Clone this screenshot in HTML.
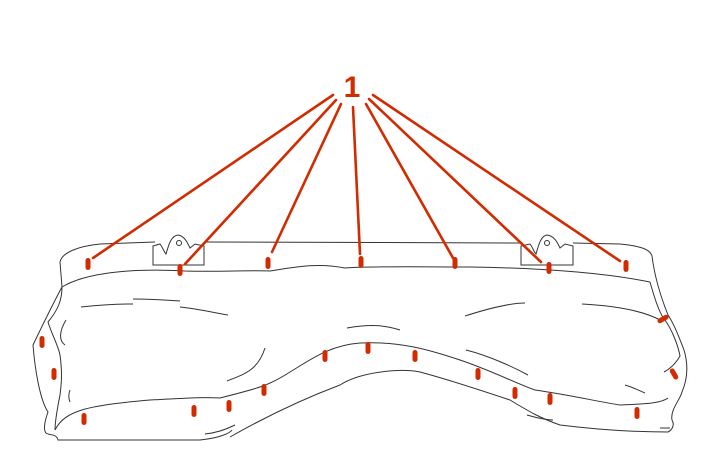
<!DOCTYPE html>
<html><head><meta charset="utf-8"><style>html,body{margin:0;padding:0;background:#fff}svg{display:block}</style></head>
<body>
<svg width="709" height="473" viewBox="0 0 709 473" xmlns="http://www.w3.org/2000/svg">
<g fill="none" stroke="#333" stroke-width="1">
<!-- top edge -->
<path d="M60,262 C62,252 80,246 100,244 L155,242 M205,242 L520,243 M573,243 L620,244 C640,246 650,249 652,256"/>
<!-- top rim lower -->
<path d="M62,287 C85,273 130,268 185,271 C220,272 250,270 270,271 C300,266 320,263 345,268 C370,266 420,267 470,267 C540,268 600,272 650,282"/>
<!-- left side -->
<path d="M60,262 L62,287 C55,300 45,320 33,345 C35,370 40,400 48,412 C45,420 43,430 46,433 C50,436 56,433 58,440 L200,440 C220,438 230,433 232,430"/>
<path d="M62,287 C62,300 58,310 48,322 C52,335 58,345 60,355 C62,370 62,380 60,395 C58,405 55,420 55,430"/>
<path d="M55,430 C65,410 90,405 150,400 C190,398 200,397 220,398 C260,388 270,385 290,372 C310,360 330,345 360,343 C400,341 430,350 460,360 C490,370 520,385 535,390 C570,395 600,402 620,405 C640,404 660,404 668,398"/>
<path d="M230,437 C260,420 300,400 340,385 C360,372 400,368 420,372 C450,380 480,390 510,400 C530,412 540,418 560,425 C600,430 640,432 668,432 C672,430 675,425 672,420 C670,410 680,400 682,392"/>
<path d="M652,256 C655,280 662,300 668,315 C675,325 680,340 684,350 C690,370 685,385 682,392"/>
<path d="M650,282 C655,300 660,315 665,320 C672,330 678,345 680,356 C675,365 668,370 664,372"/>
<!-- inner strokes -->
<path d="M81,307 C100,305 120,304 133,304 M133,299 C150,299 165,300 180,301 M180,307 C200,309 215,313 228,315"/>
<path d="M66,320 C60,330 58,340 65,345 M70,390 C68,395 69,400 70,402"/>
<path d="M227,381 C245,374 258,370 265,348 M205,434 C215,433 225,430 235,425"/>
<path d="M465,316 C490,308 510,303 525,303 M582,304 C620,306 645,312 660,320"/>
<path d="M347,328 C370,324 385,325 400,330"/>
<path d="M466,350 C490,356 515,368 528,375 M625,385 C635,388 640,391 645,393"/>
<path d="M527,415 C540,419 550,420 553,420 M660,428 L670,428"/>
<!-- brackets -->
<path d="M153,265 L153,246 L160,244 C163,248 164,252 166,254 C168,248 170,236 178,235 C185,236 188,244 190,248 L195,244 L204,246 L204,265 Z"/>
<circle cx="179" cy="243" r="2.5"/>
<path d="M521,265 L521,246 L530,244 C533,248 534,252 536,254 C538,248 540,236 547,235 C555,236 558,244 560,248 L565,244 L573,246 L573,265 Z"/>
<circle cx="547" cy="243" r="2.5"/>
</g>
<g stroke="#d22b00" stroke-width="2.6" stroke-linecap="round">
<line x1="333" y1="95" x2="93" y2="258"/>
<line x1="336" y1="100" x2="185" y2="264"/>
<line x1="341" y1="104" x2="272" y2="252"/>
<line x1="353" y1="107" x2="360" y2="254"/>
<line x1="366" y1="104" x2="453" y2="258"/>
<line x1="369" y1="99" x2="541" y2="262"/>
<line x1="373" y1="95" x2="620" y2="261"/>
</g>
<text x="352" y="97" font-family="Liberation Sans, sans-serif" font-weight="bold" font-size="30" fill="#d22b00" text-anchor="middle">1</text>
<g fill="#d22b00">
<rect x="85.5" y="258" width="5" height="12" rx="2.5"/>
<rect x="177.5" y="264" width="5" height="12" rx="2.5"/>
<rect x="265.5" y="257" width="5" height="12" rx="2.5"/>
<rect x="358.5" y="256" width="5" height="12" rx="2.5"/>
<rect x="452.5" y="257" width="5" height="12" rx="2.5"/>
<rect x="546.5" y="262" width="5" height="12" rx="2.5"/>
<rect x="623.5" y="260" width="5" height="12" rx="2.5"/>
<rect x="39.5" y="336" width="5" height="12" rx="2.5"/>
<rect x="51.5" y="368" width="5" height="12" rx="2.5"/>
<rect x="81.5" y="413" width="5" height="12" rx="2.5"/>
<rect x="191.5" y="405" width="5" height="12" rx="2.5"/>
<rect x="226.5" y="400" width="5" height="12" rx="2.5"/>
<rect x="261.5" y="384" width="5" height="12" rx="2.5"/>
<rect x="322.5" y="350" width="5" height="12" rx="2.5"/>
<rect x="365.5" y="342" width="5" height="12" rx="2.5"/>
<rect x="412.5" y="350" width="5" height="12" rx="2.5"/>
<rect x="475.5" y="368" width="5" height="12" rx="2.5"/>
<rect x="512.5" y="387" width="5" height="12" rx="2.5"/>
<rect x="547.5" y="393" width="5" height="12" rx="2.5"/>
<rect x="634.5" y="407" width="5" height="12" rx="2.5"/>
<rect x="660.5" y="313" width="5" height="12" rx="2.5" transform="rotate(60 663 319)"/>
<rect x="671.5" y="368" width="5" height="12" rx="2.5" transform="rotate(-30 674 374)"/>
</g>
</svg>
</body></html>
